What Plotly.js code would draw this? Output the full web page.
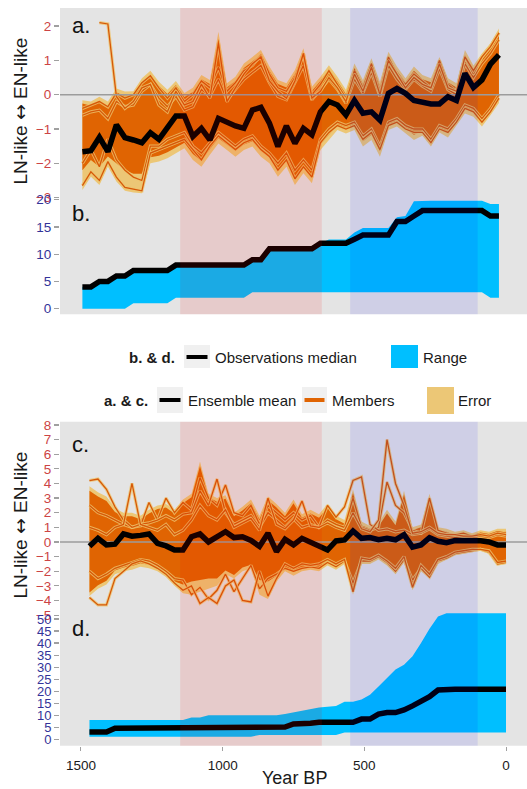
<!DOCTYPE html>
<html><head><meta charset="utf-8">
<script src="https://cdn.plot.ly/plotly-3.0.1.min.js"></script>
<style>html,body{margin:0;padding:0;background:#fff}</style>
</head><body><div id="chart" style="width:527px;height:789px"></div>
<script>
// ---------- DATA ----------
const xRange = [1574, -74];
const xTicks = [1500, 1000, 500, 0];
const ticksA = [-3, -2, -1, 0, 1, 2];
const ticksB = [0, 5, 10, 15, 20];
const ticksC = [-5, -4, -3, -2, -1, 0, 1, 2, 3, 4, 5, 6, 7, 8];
const ticksD = [0, 5, 10, 15, 20, 25, 30, 35, 40, 45, 50];
const mcaPeriod = [1150, 650];
const liaPeriod = [550, 100];

// panels a & b time axis (Year BP)
const yearsA = [1495,1465,1435,1405,1375,1345,1315,1285,1255,1225,1195,1165,1135,1105,1075,1045,1015,985,955,925,895,865,835,805,775,745,715,685,655,625,595,565,535,505,475,445,415,385,355,325,295,265,235,205,175,145,115,85,55,25];
// panel a: ensemble mean
const meanA = [-1.66,-1.63,-1.24,-1.66,-0.88,-1.25,-1.32,-1.40,-1.11,-1.30,-0.96,-0.62,-0.62,-1.22,-0.98,-1.32,-0.69,-0.82,-0.91,-0.98,-0.45,-0.37,-0.83,-1.51,-0.91,-1.42,-0.98,-1.17,-0.50,-0.20,-0.30,-0.59,-0.17,-0.54,-0.50,-0.74,0.04,0.18,0.04,-0.17,-0.23,-0.27,-0.27,-0.06,-0.17,0.62,0.21,0.43,0.89,1.16];
// panel a: error envelope
const errHiA = [-0.16,-0.2,-0.06,-0.2,0.18,0.09,0.1,0.48,0.7,0.38,0.14,0.4,0.05,0.2,0.57,0.43,1.83,0.33,0.52,0.91,1.1,1.3,0.82,0.43,0.33,0.72,1.35,0.23,0.52,0.86,0.52,0.14,0.91,0.43,1.06,0.38,1.25,0.82,0.48,0.82,0.57,0.48,1.1,0.48,0.33,1.3,0.85,1.2,1.5,1.93];
const errLoA = [-2.78,-2.39,-2.63,-2.1,-2.53,-2.8,-2.85,-2.87,-2.0,-1.95,-1.85,-1.71,-1.56,-1.9,-2.1,-1.75,-1.42,-1.61,-1.81,-1.61,-1.51,-1.81,-2.0,-2.39,-2.1,-2.63,-2.29,-2.58,-1.61,-1.32,-1.03,-1.13,-1.03,-1.51,-1.32,-1.81,-1.03,-0.93,-1.13,-1.32,-1.2,-1.51,-1.1,-1.25,-0.9,-0.55,-0.64,-0.93,-0.6,-0.24];
// panel a: members envelope
const memHiA = [-0.26,-0.32,-0.18,-0.32,0.06,-0.03,-0.02,0.34,0.56,0.26,0.02,0.28,-0.07,0.08,0.45,0.31,1.62,0.21,0.4,0.78,0.97,1.16,0.7,0.31,0.21,0.6,1.2,0.11,0.4,0.74,0.4,0.02,0.78,0.31,0.93,0.26,1.1,0.7,0.36,0.7,0.45,0.36,0.97,0.36,0.21,1.15,0.73,1.08,1.36,1.75];
const memLoA = [-2.2,-1.9,-2.1,-1.8,-2.0,-2.2,-2.3,-2.3,-1.82,-1.78,-1.68,-1.55,-1.4,-1.73,-1.93,-1.58,-1.27,-1.45,-1.64,-1.45,-1.36,-1.64,-1.83,-2.2,-1.92,-2.45,-2.12,-2.4,-1.45,-1.17,-0.89,-0.99,-0.89,-1.36,-1.17,-1.64,-0.89,-0.8,-0.99,-1.17,-1.06,-1.36,-0.96,-1.1,-0.77,-0.42,-0.5,-0.78,-0.47,-0.14];
// panel a: individual members
const memberA1 = [null,null,2.1,2.06,-0.05,-0.4,-0.2,0.2,0.3,-0.3,-0.5,0.1,-0.3,-0.2,0.3,-0.1,1.5,-0.2,0.2,0.6,0.9,1.1,0.4,0.1,-0.1,0.4,1.2,-0.1,0.1,0.5,0.2,-0.2,0.6,0.1,0.8,0.0,1.0,0.6,0.2,0.5,0.3,0.2,0.9,0.2,0.1,1.1,0.7,1.1,1.4,1.8];
const memberA2 = [-2.65,-2.25,-2.5,-1.95,-2.4,-2.7,-2.75,-2.8,-1.7,-1.6,-1.5,-1.4,-1.3,-1.6,-1.9,-1.5,-1.2,-1.4,-1.6,-1.4,-1.3,-1.6,-1.8,-2.2,-1.9,-2.45,-2.1,-2.4,-1.4,-1.1,-0.9,-1.0,-0.9,-1.3,-1.1,-1.6,-0.9,-0.8,-1.0,-1.1,-1.1,-1.4,-1.0,-1.1,-0.8,-0.4,-0.5,-0.8,-0.5,-0.1];
const memberA3 = [-0.4,-0.3,-0.2,-0.35,0.05,-0.1,0.0,0.35,0.55,0.2,-0.1,0.2,-0.2,0.0,0.4,0.2,0.8,0.1,0.35,0.7,0.85,1.15,0.6,0.2,0.1,0.5,1.2,0.0,0.3,0.7,0.3,-0.1,0.7,0.2,0.9,0.1,1.1,0.6,0.3,0.6,0.4,0.2,1.0,0.3,0.1,1.1,0.6,1.1,1.4,1.8];
const memberA4 = [-0.6,-0.5,-0.45,-0.7,-0.2,-0.35,-0.3,0.1,0.3,-0.1,-0.35,-0.05,-0.45,-0.35,0.15,-0.05,0.45,-0.15,0.15,0.45,0.65,0.85,0.35,-0.05,-0.15,0.35,0.85,-0.15,0.15,0.45,0.15,-0.25,0.45,0.05,0.65,-0.05,0.85,0.45,0.15,0.45,0.25,0.1,0.75,0.15,0.0,0.9,0.5,0.9,1.2,1.6];
const memberA5 = [-2.0,-1.6,-2.1,-1.3,-1.9,-2.2,-2.4,-2.5,-1.5,-1.5,-1.3,-1.2,-1.1,-1.5,-1.7,-1.4,-1.1,-1.3,-1.5,-1.3,-1.2,-1.5,-1.7,-2.0,-1.7,-2.2,-1.9,-2.2,-1.3,-1.0,-0.8,-0.9,-0.8,-1.2,-1.0,-1.5,-0.8,-0.7,-0.9,-1.0,-1.0,-1.3,-0.9,-1.0,-0.7,-0.3,-0.4,-0.7,-0.4,0.0];
// panel b: observations median and range
const medianB = [4,4,5,5,6,6,7,7,7,7,7,8,8,8,8,8,8,8,8,8,9,9,11,11,11,11,11,11,12,12,12,12,12.75,13.5,13.5,13.5,13.5,16,16,17,18,18,18,18,18,18,18,18,17,17];
const upperB = [4,4,5,5,6,6,7,7,7,7,7,8,8,8,8,8,8,8,8,8,9,9,11,11,11,11,11,11,12,12.7,12.7,12.7,14,14.8,14.8,14.8,14.8,16.8,17,19.7,19.8,19.8,19.8,19.8,19.8,19.8,19.8,19.8,19.2,19.2];
const lowerB = [0,0,0,0,0,0,1,1,1,1,1,2,2,2,2,2,2,2,2,2,3,3,3,3,3,3,3,3,3,3,3,3,3,3,3,3,3,3,3,3,3,3,3,3,3,3,3,3,2,2];

// panels c & d time axis (Year BP)
const yearsC = [1470,1440,1410,1380,1350,1320,1290,1260,1230,1200,1170,1140,1110,1080,1050,1020,990,960,930,900,870,840,810,780,750,720,690,660,630,600,570,540,510,480,450,420,390,360,330,300,270,240,210,180,150,120,90,60,30,0];
const meanC = [-0.3,0.25,-0.2,-0.15,0.55,0.4,0.45,0.55,-0.1,-0.27,-0.55,-0.55,0.36,0.55,0.0,0.36,0.7,0.3,0.36,0.1,-0.3,0.6,-0.66,0.18,-0.2,0.25,0.0,-0.2,-0.55,0.07,0.14,0.75,0.25,0.3,0.15,0.25,0.15,0.5,-0.35,-0.2,0.3,0.05,-0.05,0.1,0.1,0.12,0.08,0.0,-0.2,-0.2];
const errHiC = [3.8,3.4,3.1,2.3,2.0,2.0,1.8,2.2,2.5,2.6,2.2,2.9,3.3,5.5,3.3,3.0,3.2,2.0,2.4,2.9,1.8,3.1,2.6,2.0,2.9,1.9,2.2,1.9,2.6,1.8,1.5,3.6,1.4,1.1,1.3,2.2,1.4,3.5,1.0,1.2,3.3,1.0,0.9,0.7,0.8,0.6,0.8,0.7,0.9,0.9];
const errLoC = [-3.7,-3.2,-2.9,-2.2,-2.0,-1.9,-1.7,-1.8,-2.0,-2.4,-3.0,-3.5,-3.6,-3.4,-3.2,-3.0,-2.2,-2.5,-2.0,-1.8,-3.6,-3.9,-2.7,-2.0,-2.3,-2.0,-1.9,-2.0,-1.6,-1.9,-1.5,-3.6,-1.5,-1.5,-1.2,-1.6,-2.2,-1.4,-3.3,-2.0,-2.5,-1.5,-1.2,-0.9,-0.8,-0.7,-0.6,-0.8,-1.6,-1.5];
const memHiC = [3.5,3.1,2.8,2.05,1.75,1.75,1.55,1.95,2.25,2.35,1.95,2.65,3.05,5.2,3.05,2.75,2.95,1.75,2.15,2.65,1.55,2.85,2.35,1.75,2.65,1.65,1.95,1.65,2.35,1.55,1.25,3.35,1.15,0.9,1.05,1.95,1.15,3.25,0.8,1.0,3.05,0.8,0.7,0.5,0.6,0.45,0.6,0.5,0.7,0.7];
const memLoC = [-3.45,-2.95,-2.65,-1.95,-1.75,-1.65,-1.45,-1.55,-1.75,-2.15,-2.7,-2.9,-2.7,-2.6,-2.5,-2.5,-1.95,-2.25,-1.75,-1.55,-2.6,-2.7,-2.3,-1.75,-2.05,-1.75,-1.65,-1.75,-1.35,-1.65,-1.25,-3.35,-1.25,-1.25,-0.95,-1.35,-1.95,-1.15,-3.05,-1.75,-2.25,-1.25,-0.95,-0.7,-0.6,-0.5,-0.4,-0.6,-1.35,-1.25];
const memberC1 = [4.2,4.3,3.6,2.4,1.5,1.0,1.2,1.3,1.5,1.8,1.5,1.9,2.0,3.5,2.5,4.3,2.0,1.2,1.5,1.8,1.0,2.0,1.5,1.0,1.6,1.0,1.2,1.0,2.5,1.7,2.4,4.2,4.45,1.2,0.8,0.9,0.7,0.8,0.5,0.6,0.9,0.5,0.4,0.3,0.4,0.3,0.4,0.3,0.5,0.4];
const memberC2 = [1.0,0.8,0.5,1.0,1.2,4.0,1.2,1.0,0.8,1.2,0.5,0.8,1.5,2.5,1.8,1.5,2.2,1.0,1.3,1.6,0.8,3.0,1.2,0.9,1.5,2.8,1.1,1.0,1.3,1.0,0.8,2.0,0.9,0.7,1.5,7.0,4.0,2.5,0.6,0.7,1.0,0.6,0.5,0.5,0.4,0.4,0.5,0.4,0.6,0.5];
const memberC3 = [2.5,2.0,1.8,1.5,1.2,1.0,1.1,2.7,1.5,3.0,2.0,2.7,2.2,4.4,3.0,2.5,3.9,2.0,1.8,2.5,1.2,2.5,2.0,1.5,2.0,1.5,1.8,1.0,1.5,1.2,1.0,3.0,1.0,0.8,1.0,4.1,2.5,2.0,0.8,0.6,3.0,0.8,0.6,0.5,0.6,0.4,0.6,0.5,0.7,0.6];
const memberC4 = [-3.8,-4.3,-4.3,-2.5,-2.0,-1.5,-1.3,-1.5,-1.8,-2.2,-2.8,-3.3,-3.0,-4.2,-3.8,-4.2,-3.0,-2.6,-4.0,-4.1,-2.0,-3.7,-2.5,-1.5,-1.8,-1.5,-1.6,-1.5,-1.2,-1.5,-1.2,-3.4,-1.1,-1.2,-0.9,-1.3,-1.8,-1.0,-3.1,-1.6,-2.2,-1.2,-1.0,-0.7,-0.6,-0.5,-0.5,-0.6,-1.4,-1.3];
const memberC5 = [-2.0,-2.5,-2.2,-1.8,-1.6,-1.4,-1.2,-1.3,-1.6,-2.0,-2.5,-2.6,-3.6,-3.1,-3.9,-3.3,-2.2,-3.4,-2.5,-1.6,-3.2,-2.5,-2.2,-1.8,-2.0,-1.8,-1.7,-1.8,-1.4,-1.7,-1.3,-2.8,-1.3,-1.3,-1.0,-1.4,-2.0,-1.2,-2.6,-1.8,-2.4,-1.3,-1.1,-0.8,-0.7,-0.6,-0.5,-0.7,-1.5,-1.4];
// panel d: observations median and range
const medianD = [3,3,3,4.6,4.6,4.6,4.6,4.6,4.6,4.6,4.6,4.6,4.6,4.6,5.1,5.1,5.1,5.1,5.1,5.1,5.1,5.1,5.1,5.1,6.4,6.4,6.7,7.1,7.1,7.1,7.1,7.1,8.4,8.4,10.5,11.1,11.1,12.2,13.9,15.6,17.7,20.5,20.8,20.8,20.8,20.8,20.8,20.8,20.8,20.8];
const upperD = [8,8,8,8,8,8,8,8,8,8,8,8,9.1,9.1,10,10,10,10,10,10,10,10,10,10.5,11.2,11.8,12.3,13.2,13.5,13.8,15.6,15.6,16.5,18.5,22,25.5,29,31,34.5,40,46,51,52.4,52.4,52.4,52.4,52.4,52.4,52.4,52.4];
const lowerD = [1.1,1.1,1.1,1.1,1.1,1.1,1.1,1.1,1.1,1.1,1.1,1.1,1.1,1.1,1.1,1.1,1.1,1.1,1.1,1.1,1.8,1.8,1.8,1.8,1.8,1.8,1.8,1.8,1.8,1.8,2.8,2.8,2.8,2.8,2.8,2.8,2.8,2.8,2.8,2.8,2.8,2.8,2.8,2.8,2.8,2.8,2.8,2.8,2.8,2.8];

// ---------- STYLE ----------
const W = 527, H = 789;
const px = v => v / W;
const py = v => 1 - v / H;
const COL = {
  grey: '#e4e4e4', tan: 'rgb(236,199,118)', orange: 'rgb(224,100,2)',
  member: 'rgb(214,88,8)', blue: '#00bfff', red: '#cc4444', navy: '#333399',
  zero: '#9c9c9c'
};
const FONT = 'Liberation Sans, Arial, Helvetica, sans-serif';

function fillPair(xs, lo, hi, ya, color) {
  return [
    {x: xs, y: lo, xaxis: 'x', yaxis: ya, type: 'scatter', mode: 'lines',
     line: {width: 0, color: color}, hoverinfo: 'skip'},
    {x: xs, y: hi, xaxis: 'x', yaxis: ya, type: 'scatter', mode: 'lines',
     line: {width: 0, color: color}, fill: 'tonexty', fillcolor: color, hoverinfo: 'skip'}
  ];
}
function member(xs, ys, ya) {
  return [
    {x: xs, y: ys, xaxis: 'x', yaxis: ya, type: 'scatter', mode: 'lines',
     line: {width: 3.2, color: 'rgba(238,196,110,0.8)'}, hoverinfo: 'skip'},
    {x: xs, y: ys, xaxis: 'x', yaxis: ya, type: 'scatter', mode: 'lines',
     line: {width: 1.3, color: COL.member}, hoverinfo: 'skip'}
  ];
}
function meanLine(xs, ys, ya) {
  return {x: xs, y: ys, xaxis: 'x', yaxis: ya, type: 'scatter', mode: 'lines',
          line: {width: 5.5, color: '#000'}, hoverinfo: 'skip'};
}
function zeroLine(ya) {
  return {x: xRange, y: [0, 0], xaxis: 'x', yaxis: ya, type: 'scatter', mode: 'lines',
          line: {width: 1.5, color: COL.zero}, hoverinfo: 'skip'};
}

const data = [
  // panel a
  ...fillPair(yearsA, errLoA, errHiA, 'y', COL.tan),
  ...fillPair(yearsA, memLoA, memHiA, 'y', COL.orange),
  ...member(yearsA, memberA5, 'y'),
  ...member(yearsA, memberA4, 'y'),
  ...member(yearsA, memberA2, 'y'),
  ...member(yearsA, memberA3, 'y'),
  ...member(yearsA, memberA1, 'y'),
  zeroLine('y'),
  meanLine(yearsA, meanA, 'y'),
  // panel b
  ...fillPair(yearsA, lowerB, upperB, 'y2', COL.blue),
  meanLine(yearsA, medianB, 'y2'),
  // panel c
  ...fillPair(yearsC, errLoC, errHiC, 'y3', COL.tan),
  ...fillPair(yearsC, memLoC, memHiC, 'y3', COL.orange),
  ...member(yearsC, memberC3, 'y3'),
  ...member(yearsC, memberC5, 'y3'),
  ...member(yearsC, memberC1, 'y3'),
  ...member(yearsC, memberC2, 'y3'),
  ...member(yearsC, memberC4, 'y3'),
  zeroLine('y3'),
  meanLine(yearsC, meanC, 'y3'),
  // panel d
  ...fillPair(yearsC, lowerD, upperD, 'y4', COL.blue),
  meanLine(yearsC, medianD, 'y4')
];

function yAxis(domPx, range, tickvals, color, fs) {
  return {
    domain: [py(domPx[1]), py(domPx[0])], range: range, anchor: 'x',
    tickmode: 'array', tickvals: tickvals, ticks: 'outside', ticklen: 5,
    tickcolor: '#a0a0a0', tickwidth: 1.2, showgrid: false, zeroline: false,
    showline: false, fixedrange: true,
    tickfont: {family: FONT, size: fs, color: color}
  };
}

const topBg = [8, 314.3], botBg = [421.7, 745.7];
const shapes = [];
[topBg, botBg].forEach(b => {
  shapes.push({type: 'rect', xref: 'paper', yref: 'paper', x0: px(60), x1: 1,
    y0: py(b[1]), y1: py(b[0]), fillcolor: COL.grey, line: {width: 0}, layer: 'below'});
  shapes.push({type: 'rect', xref: 'x', yref: 'paper', x0: mcaPeriod[0], x1: mcaPeriod[1],
    y0: py(b[1]), y1: py(b[0]), fillcolor: 'rgba(255,0,0,0.105)', line: {width: 0}, layer: 'above'});
  shapes.push({type: 'rect', xref: 'x', yref: 'paper', x0: liaPeriod[0], x1: liaPeriod[1],
    y0: py(b[1]), y1: py(b[0]), fillcolor: 'rgba(0,0,255,0.092)', line: {width: 0}, layer: 'above'});
});

// legend keys
function keyBox(x0, x1, y0, y1, fill) {
  shapes.push({type: 'rect', xref: 'paper', yref: 'paper', x0: px(x0), x1: px(x1),
    y0: py(y1), y1: py(y0), fillcolor: fill, line: {width: 0}, layer: 'above'});
}
function keyLine(x0, x1, y, color) {
  shapes.push({type: 'line', xref: 'paper', yref: 'paper', x0: px(x0), x1: px(x1),
    y0: py(y), y1: py(y), line: {color: color, width: 4}, layer: 'above'});
}
keyBox(184, 210, 345, 368, '#f0f0f0'); keyLine(186.5, 207.5, 357, '#000');
keyBox(391, 418, 345, 368, COL.blue);
keyBox(157, 183, 387, 413, '#f0f0f0'); keyLine(159.5, 180.5, 400, '#000');
keyBox(302, 327, 387, 413, '#f0f0f0'); keyLine(304.5, 324.5, 400, COL.orange);
keyBox(427, 454, 387, 414, COL.tan);

function ann(text, x, y, opts) {
  return Object.assign({text: text, x: px(x), y: py(y), xref: 'paper', yref: 'paper',
    showarrow: false, xanchor: 'left', yanchor: 'middle',
    font: {family: FONT, size: 15, color: '#1a1a1a'}}, opts || {});
}
const yTitle = 'LN-like <span style="font-family:DejaVu Sans">↔</span> EN-like';
const annotations = [
  ann('a.', 70, 25.5, {font: {family: FONT, size: 22, color: '#111'}}),
  ann('b.', 70, 213.5, {font: {family: FONT, size: 22, color: '#111'}}),
  ann('c.', 70, 444, {font: {family: FONT, size: 22, color: '#111'}}),
  ann('d.', 70, 628.5, {font: {family: FONT, size: 22, color: '#111'}}),
  ann(yTitle, 19.5, 111, {xanchor: 'center', textangle: -90,
      font: {family: FONT, size: 19, color: '#1a1a1a'}}),
  ann(yTitle, 19.5, 525, {xanchor: 'center', textangle: -90,
      font: {family: FONT, size: 19, color: '#1a1a1a'}}),
  ann('Year BP', 294, 778, {xanchor: 'center', borderpad: 0, borderwidth: 0,
      font: {family: FONT, size: 18, color: '#1a1a1a'}}),
  ann('<b>b. &amp; d.</b>', 177, 357, {xanchor: 'right'}),
  ann('Observations median', 213, 357),
  ann('Range', 421, 357),
  ann('<b>a. &amp; c.</b>', 150, 400, {xanchor: 'right'}),
  ann('Ensemble mean', 186, 400),
  ann('Members', 330, 400),
  ann('Error', 456, 400)
];

const layout = {
  width: W, height: H, margin: {l: 0, r: 0, t: 0, b: 0, pad: 0},
  paper_bgcolor: '#ffffff', plot_bgcolor: 'rgba(0,0,0,0)', showlegend: false,
  font: {family: FONT, color: '#1a1a1a'},
  xaxis: {domain: [px(60), 1], range: xRange, anchor: 'y4', tickmode: 'array',
    tickvals: xTicks, ticks: 'outside', ticklen: 4, tickcolor: '#a0a0a0',
    ticklabelstandoff: 3, showgrid: false, zeroline: false, showline: false,
    fixedrange: true, tickfont: {family: FONT, size: 13.5, color: '#1a1a1a'}},
  yaxis: yAxis([8, 198], [-3.01, 2.525], ticksA, COL.red, 13.5),
  yaxis2: yAxis([194.25, 314.3], [-1.03, 21], ticksB, COL.navy, 13.5),
  yaxis3: yAxis([421.7, 616.6], [-5.1, 8.22], ticksC, COL.red, 13.5),
  yaxis4: yAxis([605.8, 745.7], [-2.66, 55.5], ticksD, COL.navy, 13),
  shapes: shapes,
  annotations: annotations
};

Plotly.newPlot('chart', data, layout, {displayModeBar: false, staticPlot: true});
</script>
</body></html>
